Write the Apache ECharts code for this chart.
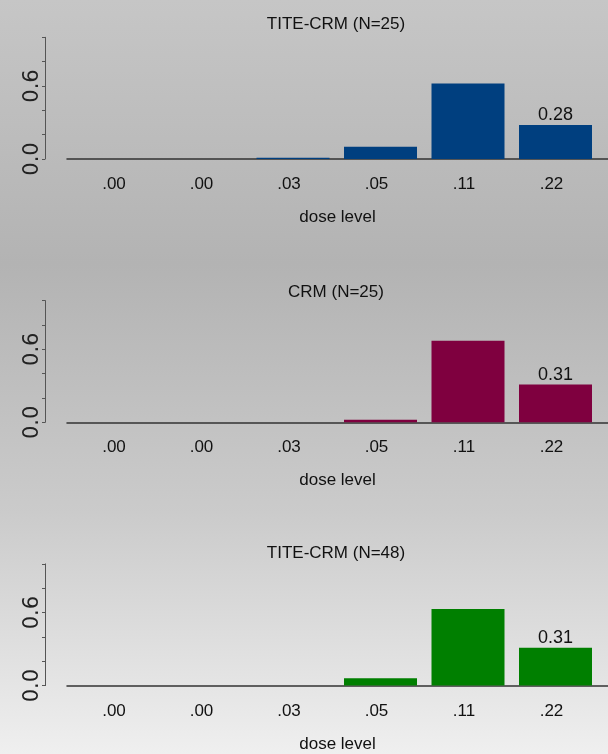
<!DOCTYPE html>
<html>
<head>
<meta charset="utf-8">
<script src="https://cdn.jsdelivr.net/npm/echarts@6/dist/echarts.min.js"></script>
<style>
  html, body { margin: 0; padding: 0; }
  #chart { width: 608px; height: 754px; }
</style>
</head>
<body>
<div id="chart"></div>
<script>
// Dose levels (prior toxicity probabilities shown under each bar)
const doseLabels = ['.00', '.00', '.03', '.05', '.11', '.22'];

// Proportion of trials recommending each dose level
const titeCrmN25 = [0, 0, 0.01, 0.10, 0.62, 0.28];
const crmN25 = [0, 0, 0, 0.02, 0.67, 0.31];
const titeCrmN48 = [0, 0, 0, 0.06, 0.63, 0.31];

const panelTitles = ['TITE-CRM (N=25)', 'CRM (N=25)', 'TITE-CRM (N=48)'];
const panelData = [titeCrmN25, crmN25, titeCrmN48];
const barColors = ['#003f7f', '#7f003f', '#007f00'];

const yTicks = [0, 0.6];

const sans = "'Liberation Sans', Arial, sans-serif";
const fs = 17;

const chart = echarts.init(document.getElementById('chart'), null, { renderer: 'canvas' });

const baseY = 159;       // baseline of the first panel
const step = 263.3;      // vertical distance between panels
const plotH = 121.7;     // height of the 0..1 range
const titleY = [25, 293, 554];

const grids = [], xAxes = [], yAxes = [], series = [], titles = [];

panelData.forEach((vals, k) => {
  const base = baseY + step * k;
  grids.push({ left: 67, right: 0, top: base - plotH, height: plotH, containLabel: false });
  titles.push({
    text: panelTitles[k],
    left: 336,
    textAlign: 'center',
    top: titleY[k] - 9,
    padding: 0,
    textStyle: { fontFamily: sans, fontSize: fs, fontWeight: 'normal', color: '#111' }
  });
  xAxes.push({
    type: 'value',
    gridIndex: k,
    min: -0.583,
    max: 5.6,
    splitLine: { show: false },
    axisTick: { show: false },
    axisLine: { show: true, onZero: false, lineStyle: { color: '#333', width: 1.5 } },
    axisLabel: {
      customValues: [0, 1, 2, 3, 4, 5],
      formatter: (v) => doseLabels[Math.round(v)],
      fontFamily: sans, fontSize: fs, color: '#111', margin: 17,
      padding: [0, 8, 0, 0]
    },
    name: 'dose level',
    nameLocation: 'middle',
    nameGap: 50,
    nameTextStyle: { fontFamily: sans, fontSize: fs, color: '#111' }
  });
  yAxes.push({
    type: 'value',
    gridIndex: k,
    min: 0,
    max: 1,
    interval: 0.2,
    offset: 22,
    splitLine: { show: false },
    axisLine: { show: true, onZero: false, lineStyle: { color: '#555', width: 1 } },
    axisTick: { show: true, length: 3, lineStyle: { color: '#555' } },
    axisLabel: {
      customValues: yTicks,
      formatter: (v) => v.toFixed(1),
      rotate: 90,
      fontFamily: "'DejaVu Sans', sans-serif",
      fontSize: 21,
      color: '#222',
      margin: 2
    }
  });
  series.push({
    type: 'bar',
    xAxisIndex: k,
    yAxisIndex: k,
    barWidth: 73,
    itemStyle: { color: barColors[k] },
    data: vals.map((v, i) => {
      const item = { value: [i, v] };
      if (i === vals.length - 1) {
        item.label = {
          show: true,
          position: 'top',
          distance: 1,
          formatter: (p) => p.value[1].toFixed(2),
          fontFamily: sans,
          fontSize: fs + 1,
          color: '#111'
        };
      }
      return item;
    }),
    animation: false
  });
});

chart.setOption({
  backgroundColor: {
    type: 'linear', x: 0, y: 0, x2: 0, y2: 1,
    colorStops: [
      { offset: 0, color: '#c6c6c6' },
      { offset: 0.35, color: '#b3b3b3' },
      { offset: 0.68, color: '#cbcbcb' },
      { offset: 1, color: '#efefef' }
    ]
  },
  animation: false,
  title: titles,
  grid: grids,
  xAxis: xAxes,
  yAxis: yAxes,
  series: series
});
</script>
</body>
</html>
